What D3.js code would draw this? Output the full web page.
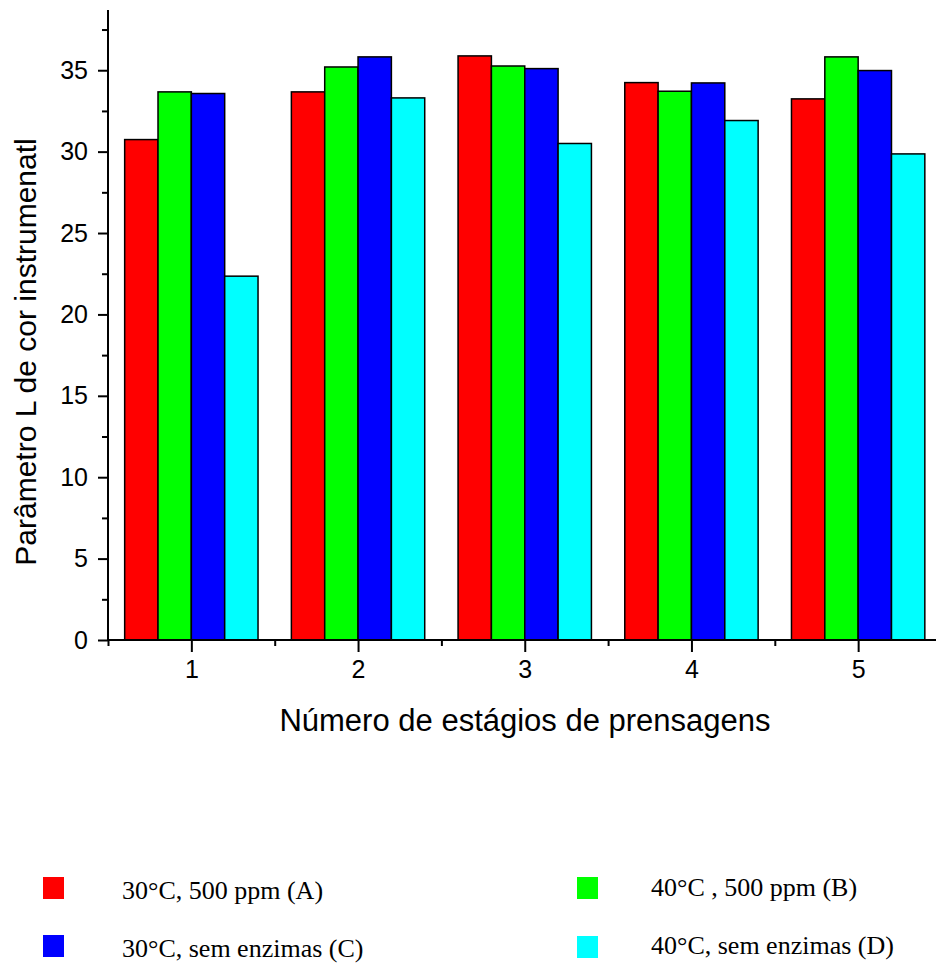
<!DOCTYPE html>
<html>
<head>
<meta charset="utf-8">
<script src="https://cdn.jsdelivr.net/npm/d3@7"></script>
<style>
  html, body { margin: 0; padding: 0; background: #fff; }
  svg { display: block; }
</style>
</head>
<body>
<svg id="chart" width="936" height="967"></svg>
<script>
const categories = [1, 2, 3, 4, 5];
const seriesNames = ["30°C, 500 ppm (A)", "40°C , 500 ppm (B)", "30°C, sem enzimas (C)", "40°C, sem enzimas (D)"];
const seriesColors = ["#ff0000", "#00ff00", "#0000ff", "#00ffff"];
const serieA = [30.74, 33.67, 35.88, 34.24, 33.24];
const serieB = [33.67, 35.20, 35.26, 33.71, 35.82];
const serieC = [33.57, 35.82, 35.10, 34.22, 34.98];
const serieD = [22.35, 33.30, 30.50, 31.91, 29.86];
const yMajorTicks = [0, 5, 10, 15, 20, 25, 30, 35];
const yMinorTicks = [2.5, 7.5, 12.5, 17.5, 22.5, 27.5, 32.5, 37.5];
const xMinorTicks = [0.5, 1.5, 2.5, 3.5, 4.5, 5.5];
const yTitle = "Parâmetro L de cor instrumenatl";
const xTitle = "Número de estágios de prensagens";

const series = [serieA, serieB, serieC, serieD];

const svg = d3.select("#chart");
const x0 = 108, y0 = 640;

const x = d3.scaleLinear().domain([0.5, 5.5]).range([x0, x0 + 833.5]);
const y = d3.scaleLinear().domain([0, 38.7]).range([y0, 10]);

const groupW = (x(1.4) - x(0.6));
const xb = d3.scaleBand().domain(d3.range(series.length)).range([-groupW / 2, groupW / 2]).padding(0);

// bars
const g = svg.append("g");
series.forEach((vals, si) => {
  g.selectAll(null).data(categories).enter().append("rect")
    .attr("x", (c) => x(c) + xb(si))
    .attr("y", (c, i) => y(vals[i]))
    .attr("width", xb.bandwidth())
    .attr("height", (c, i) => y(0) - y(vals[i]))
    .attr("fill", seriesColors[si])
    .attr("stroke", "#000")
    .attr("stroke-width", 1.5);
});

// Y axis
const yAxis = d3.axisLeft(y).tickValues(yMajorTicks).tickSize(10).tickPadding(10).tickFormat(d3.format("d"));
const yA = svg.append("g").attr("transform", `translate(${x0},0)`).call(yAxis);
yA.select(".domain").attr("stroke", "#000").attr("stroke-width", 2).attr("d", `M0,${y(0)}V${y(38.7)}`);
yA.selectAll(".tick line").attr("stroke-width", 2);
yA.selectAll(".tick text").attr("font-family", "Liberation Sans, Arial, sans-serif").attr("font-size", 25).attr("fill", "#000");
const yMin = d3.axisLeft(y).tickValues(yMinorTicks).tickSize(6).tickFormat("");
const yM = svg.append("g").attr("transform", `translate(${x0},0)`).call(yMin);
yM.select(".domain").remove();
yM.selectAll(".tick line").attr("stroke-width", 2);

// X axis
const xAxis = d3.axisBottom(x).tickValues(categories).tickSize(12).tickPadding(8).tickFormat(d3.format("d"));
const xA = svg.append("g").attr("transform", `translate(0,${y0})`).call(xAxis);
xA.select(".domain").attr("stroke", "#000").attr("stroke-width", 2).attr("d", `M${x0 - 1},0H936`);
xA.selectAll(".tick line").attr("stroke-width", 2);
xA.selectAll(".tick text").attr("font-family", "Liberation Sans, Arial, sans-serif").attr("font-size", 25).attr("fill", "#000");
const xMin = d3.axisBottom(x).tickValues(xMinorTicks).tickSize(6).tickFormat("");
const xM = svg.append("g").attr("transform", `translate(0,${y0})`).call(xMin);
xM.select(".domain").remove();
xM.selectAll(".tick line").attr("stroke-width", 2);

// titles
svg.append("text")
  .attr("transform", `translate(36,352) rotate(-90)`)
  .attr("text-anchor", "middle")
  .attr("font-family", "Liberation Sans, Arial, sans-serif")
  .attr("font-size", 30)
  .attr("fill", "#000")
  .text(yTitle);

svg.append("text")
  .attr("x", 525).attr("y", 731)
  .attr("text-anchor", "middle")
  .attr("font-family", "Liberation Sans, Arial, sans-serif")
  .attr("font-size", 31)
  .attr("fill", "#000")
  .text(xTitle);

// legend
const legendPos = [
  { sx: 43, sy: 877, tx: 122, ty: 899 },
  { sx: 577, sy: 877, tx: 651, ty: 896 },
  { sx: 43, sy: 935, tx: 122, ty: 957 },
  { sx: 577, sy: 936, tx: 651, ty: 954 }
];
const lg = svg.append("g");
seriesNames.forEach((name, i) => {
  const p = legendPos[i];
  lg.append("rect").attr("x", p.sx).attr("y", p.sy).attr("width", 21).attr("height", 22)
    .attr("fill", seriesColors[i]);
  lg.append("text").attr("x", p.tx).attr("y", p.ty)
    .attr("font-family", "Liberation Serif, 'Times New Roman', serif")
    .attr("font-size", 26).attr("fill", "#000")
    .text(name);
});
</script>
</body>
</html>
